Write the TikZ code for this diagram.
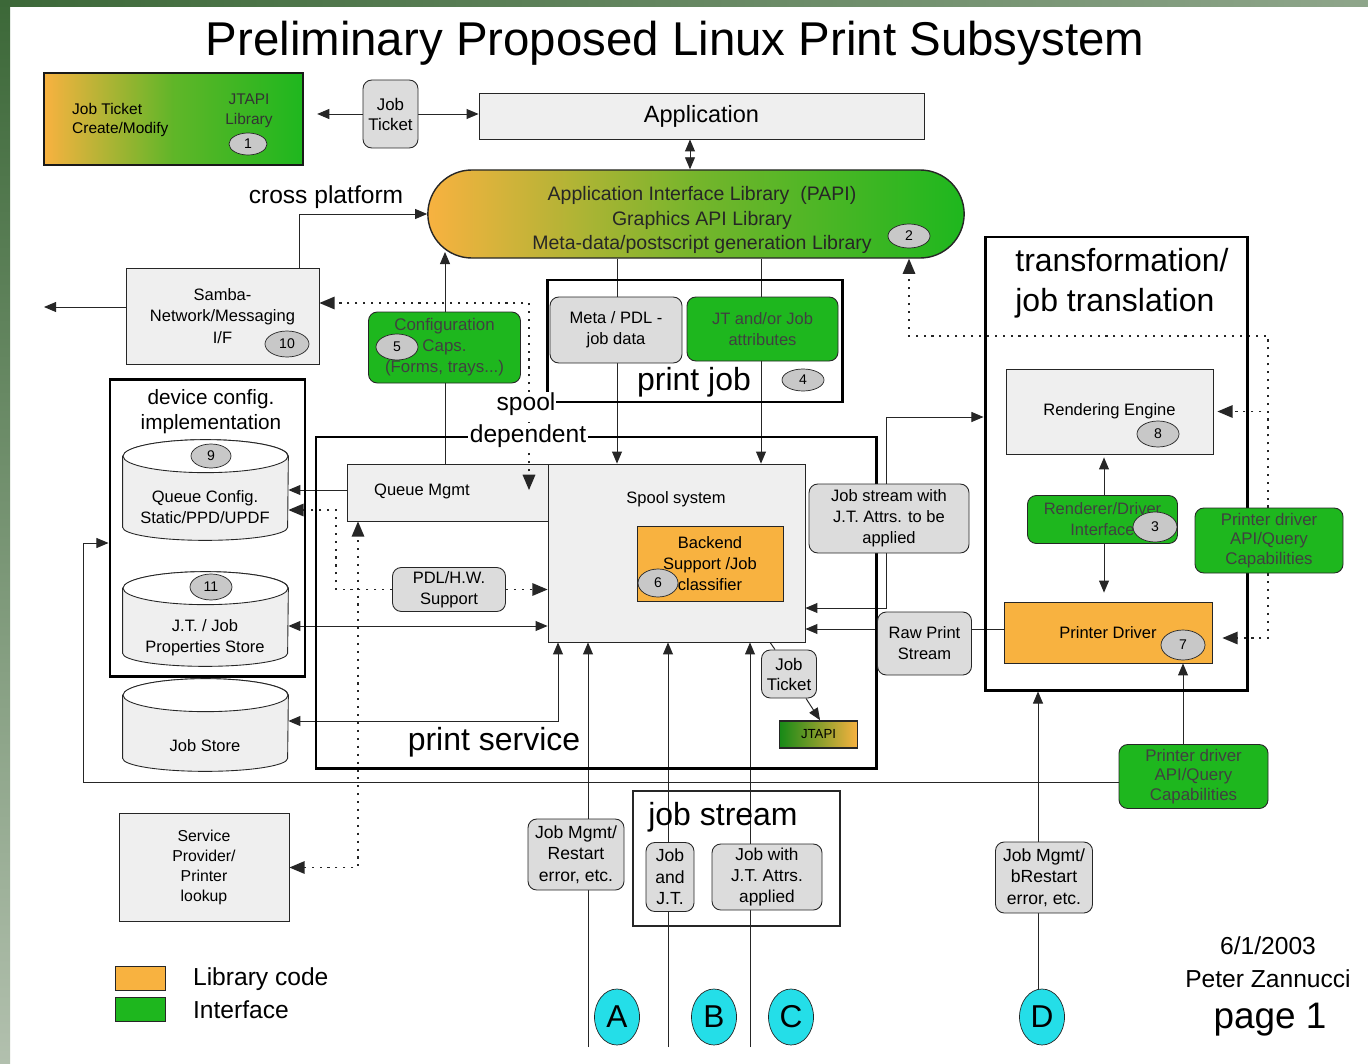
\documentclass[tikz,border=0pt]{standalone}
\usepackage{fontspec}
\setmainfont{Liberation Sans}
\usetikzlibrary{positioning,arrows,shapes,calc,backgrounds}

\definecolor{libora}{RGB}{248,178,64}
\definecolor{ifgreen}{RGB}{30,183,30}
\definecolor{boxgray}{RGB}{239,239,239}
\definecolor{notegray}{RGB}{220,220,220}
\definecolor{badgegray}{RGB}{200,200,200}
\definecolor{entcyan}{RGB}{36,222,232}
\definecolor{edgegreen}{RGB}{60,104,56}
\definecolor{edgepale}{RGB}{178,192,174}

\newcommand\fsz[2]{\fontsize{#1}{#2}\selectfont}
% database drum drawn round a named node
\newcommand\dbshape[1]{%
  \path[fill=boxgray, draw=black!85, line width=0.5pt]
    ([yshift=-0.33cm]#1.north west) -- ([yshift=0.26cm]#1.south west)
    arc[start angle=180, end angle=360, x radius=1.65cm, y radius=0.26cm]
    -- ([yshift=-0.33cm]#1.north east)
    arc[start angle=0, end angle=180, x radius=1.65cm, y radius=0.33cm] -- cycle;
  \path[fill=white, draw=black!85, line width=0.5pt]
    ([yshift=-0.33cm]#1.north) ellipse[x radius=1.65cm, y radius=0.33cm];
}

\tikzset{
  sz/.style 2 args={minimum width=#1*0.02cm, minimum height=#2*0.02cm},
  box/.style={draw=black!85, fill=boxgray, line width=0.5pt, align=center, inner sep=1pt},
  note/.style={box, fill=notegray, rounded corners=5pt},
  iface/.style={note, fill=ifgreen, text=black!75},
  libbox/.style={box, fill=libora},
  group/.style={draw=black, line width=1.7pt, inner sep=0pt},
  dbnode/.style={inner sep=0pt},
  badge/.style={ellipse, draw=black!85, fill=badgegray, inner sep=0pt, font=\fsz{8}{9}},
  entry/.style={ellipse, draw=black!85, fill=entcyan, sz={45}{56}, inner sep=0pt, font=\fsz{18}{20}},
  tag/.style={inner sep=1pt, font=\fsz{14}{16}},
  bigtag/.style={inner sep=1pt, font=\fsz{18.2}{22}},
  conn/.style={draw=black!85, line width=0.55pt, >=triangle 45},
  dotconn/.style={conn, line width=1pt, dash pattern=on 1.2pt off 3.3pt},
}

\begin{document}
\begin{tikzpicture}[x=0.02cm, y=-0.02cm, font=\fsz{9.4}{12}]
  \useasboundingbox (0,0) rectangle (1368,1064);
  \begin{pgfonlayer}{background}
    \fill[white] (0,0) rectangle (1368,1064);
    \shade[top color=edgegreen, bottom color=edgepale] (0,0) rectangle (10,1064);
    \shade[left color=edgegreen, right color=edgepale!70!edgegreen] (0,0) rectangle (1368,7);
  \end{pgfonlayer}

  \node[font=\fsz{27}{32}] (title) at (675,43) {Preliminary Proposed Linux Print Subsystem};

  % top row
  \node[box, sz={259}{92}, line width=1.4pt, draw=black!90, left color=libora, right color=ifgreen, middle color=ifgreen!70!libora] (jtapi) at (173.5,119) {};
  \node[anchor=west, align=left, font=\fsz{8.8}{11.3}] (jtapitxt) at (66,120) {Job Ticket\\Create/Modify};
  \node[align=center, font=\fsz{8.8}{11.3}, text=black!80] (jtlib) at (249,111) {JTAPI\\Library};
  \node[badge, sz={38}{22}] (b1) at (248,144) {1};
  \node[note, sz={55}{68}, font=\fsz{9.6}{11.4}] (jtk) at (390.5,114) {Job\\Ticket};
  \node[box, sz={445}{46}, font=\fsz{13.4}{15}] (app) at (701.5,116) {Application};

  \node[rounded rectangle, draw=black!85, line width=0.8pt, sz={548}{88}, left color=libora, right color=ifgreen, middle color=ifgreen!60!libora] (papi) at (696,214) {};
  \node[align=center, font=\fsz{11.1}{13.9}, text=black!85] (papitxt) at (702,220) {Application Interface Library\ \ (PAPI)\\Graphics API Library\\Meta-data/postscript generation Library};
  \node[badge, sz={42}{24}] (b2) at (909,236) {2};
  \node[tag] (xplat) at (326,197) {cross platform};

  % network and configuration
  \node[box, sz={193}{96}, font=\fsz{9.4}{12.2}] (samba) at (222.5,316) {Samba-\\Network/Messaging\\I/F};
  \node[badge, sz={44}{26}] (b10) at (287,344) {10};
  \node[iface, sz={152}{71}, font=\fsz{9.6}{11.9}] (cfg) at (444.5,347.5) {Configuration\\Caps.\\(Forms, trays...)};
  \node[badge, sz={42}{26}] (b5) at (397,347) {5};

  % print job
  \node[group, sz={295}{122}] (pjob) at (695,341) {};
  \node[note, sz={132}{66}] (meta) at (616,330) {Meta / PDL -\\job data};
  \node[iface, sz={151}{64}] (jtattr) at (762.5,329) {JT and/or Job\\attributes};
  \node[bigtag] (pjobtxt) at (694,382) {print job};
  \node[badge, sz={42}{22}] (b4) at (803,380) {4};

  % device config stores
  \node[group, sz={195}{297}] (devcfg) at (207.5,528) {};
  \node[align=center, font=\fsz{11.8}{14.2}] (devcfgtxt) at (211,412) {device config.\\implementation};
  \node[dbnode, sz={165}{100}] (qcfg) at (205.5,490) {};
  \dbshape{qcfg}
  \node[badge, sz={40}{24}] (b9) at (211,456) {9};
  \node[align=center] (qcfgtxt) at (205,507) {Queue Config.\\Static/PPD/UPDF};
  \node[dbnode, sz={165}{94}] (jtstore) at (205.5,619) {};
  \dbshape{jtstore}
  \node[badge, sz={42}{26}] (b11) at (211,587) {11};
  \node[align=center] (jtstoretxt) at (205,638) {J.T. / Job\\Properties Store};
  \node[dbnode, sz={165}{92}] (jobstore) at (205.5,725) {};
  \dbshape{jobstore}
  \node (jobstoretxt) at (205,746) {Job Store};
  \node[box, sz={170}{108}, font=\fsz{9}{11.3}] (svc) at (204,867.5) {Service\\Provider/\\Printer\\lookup};

  % print service
  \node[group, sz={560}{331}] (psvc) at (596,602.5) {};
  \node[box, sz={201}{57}] (qmgmt) at (447.5,492.5) {};
  \node[anchor=west] (qmgmttxt) at (368,491) {Queue Mgmt};
  \node[box, sz={257}{178}] (spool) at (676.5,553) {};
  \node (spooltxt) at (676,499) {Spool system};
  \node[libbox, sz={146}{75}] (backend) at (710,563.5) {Backend\\Support /Job\\classifier};
  \node[badge, sz={40}{28}] (b6) at (658,583) {6};
  \node[note, sz={113}{44}] (pdl) at (449,589.5) {PDL/H.W.\\Support};
  \node[note, sz={55}{48}, font=\fsz{9.6}{11.4}] (jtk2) at (789,674) {Job\\Ticket};
  \node[box, sz={78}{27}, line width=1pt, left color=ifgreen!75!black, right color=libora, font=\fsz{7.5}{9}] (jtapi2) at (818.5,734.5) {JTAPI};
  \node[bigtag] (psvctxt) at (494,742) {print service};
  \node[note, sz={160}{69}] (jswith) at (889,518.5) {Job stream with\\J.T. Attrs. to be\\applied};
  \node[note, sz={94}{63}] (raw) at (924.5,643.5) {Raw Print\\Stream};

  % transformation
  \node[group, sz={262}{453}] (trans) at (1116,463.5) {};
  \node[bigtag, align=left, font=\fsz{18.2}{22.5}] (transtxt) at (1122,283) {transformation/\\job translation};
  \node[box, sz={207}{85}] (render) at (1109.5,411.5) {Rendering Engine};
  \node[badge, sz={42}{26}] (b8) at (1158,434) {8};
  \node[iface, sz={150}{48}] (rdi) at (1102.5,519.5) {Renderer/Driver\\Interface};
  \node[badge, sz={44}{30}] (b3) at (1155,527) {3};
  \node[libbox, sz={208}{61}] (pdrv) at (1108,632.5) {Printer Driver};
  \node[badge, sz={44}{30}] (b7) at (1183,645) {7};
  \node[iface, sz={148}{65}, font=\fsz{9.6}{11.3}] (pdapi1) at (1269,540.5) {Printer driver\\API/Query\\Capabilities};
  \node[iface, sz={149}{64}, font=\fsz{9.6}{11.3}] (pdapi2) at (1193.5,776.5) {Printer driver\\API/Query\\Capabilities};

  % job stream
  \node[note, sz={96}{71}, font=\fsz{10}{12.2}] (jmA) at (576,854.5) {Job Mgmt/\\Restart\\error, etc.};
  \node[draw=black!85, line width=0.6pt, sz={207}{135}] (jstream) at (736.5,858.5) {};
  \node[bigtag] (jstreamtxt) at (723,817) {job stream};
  \node[note, sz={48}{69}, font=\fsz{10}{12.2}] (jobjt) at (670,877) {Job\\and\\J.T.};
  \node[note, sz={110}{66}, font=\fsz{9.8}{12.2}] (jobwith) at (767,877) {Job with\\J.T. Attrs.\\applied};
  \node[note, sz={97}{71}, font=\fsz{10}{12.2}] (jmD) at (1044,877.5) {Job Mgmt/\\bRestart\\error, etc.};
  \node[entry] (entA) at (617,1017) {A};
  \node[entry] (entB) at (714,1017) {B};
  \node[entry] (entC) at (791,1017) {C};
  \node[entry] (entD) at (1042,1017) {D};
  \coordinate (srcA) at (588,1047);
  \coordinate (srcB) at (668,1047);
  \coordinate (srcC) at (750,1047);

  % legend and date
  \node[draw=black!85, fill=libora, sz={50}{24}, inner sep=0pt] (legora) at (140.5,978) {};
  \node[tag, anchor=west] (legoratxt) at (191,979) {Library code};
  \node[draw=black!85, fill=ifgreen, sz={50}{24}, inner sep=0pt] (leggrn) at (140.5,1009.5) {};
  \node[tag, anchor=west] (leggrntxt) at (191,1010) {Interface};
  \node[tag] (date) at (1268,946) {6/1/2003};
  \node[tag] (author) at (1268,979) {Peter Zannucci};
  \node[font=\fsz{21}{24}] (page) at (1270,1020) {page 1};

  \coordinate (netout) at (44,307);
  \coordinate (papiin) at (445,252);
  \coordinate (qmgin) at (529,490);

  \begin{pgfonlayer}{background}
    \draw[conn,->,shorten >=0.26cm] (jtk.west) -- (jtapi.east |- jtk.west);
    \draw[conn,->] (jtk.east) -- (app.west |- jtk.east);
    \draw[conn,<->] (app.south -| 690,0) -- (papi.north -| 690,0);
    \draw[conn,->] (samba.north -| 299,0) |- (papi.west);
    \draw[conn,->] (samba.west |- netout) -- (netout);
    \draw[conn,->] (qmgmt.north -| papiin) -- (papiin);
    \draw[conn,->] (papi.south -| 617,0) -- (spool.north -| 617,0);
    \draw[conn,->] (papi.south -| 761,0) -- (spool.north -| 761,0);
    \draw[conn,->] (qmgmt.west |- 0,490) -- (qcfg.east |- 0,490);
    \draw[dotconn,->] (pdl.west) -| (336,510) -- (qcfg.east |- 0,510);
    \draw[dotconn,->] (pdl.east) -- (pdl.east -| spool.west);
    \draw[dotconn,<->] (qmgmt.south -| 358,0) |- (svc.east);
    \draw[conn,<->] (jtstore.east |- 0,626) -- (spool.west |- 0,626);
    \draw[conn,<->] (jobstore.east |- 0,721) -| (spool.south -| 558,0);
    \draw[conn,->] (srcA) -- (spool.south -| srcA);
    \draw[conn,->] (srcB) -- (spool.south -| srcB);
    \draw[conn,->] (srcC) -- (spool.south -| srcC);
    \draw[conn,<->] (spool.east |- 0,608) -| (886,417) -- (trans.west |- 0,417);
    \draw[conn] (pdrv.west |- 0,629) -- (raw.east |- 0,629);
    \draw[conn,->] (raw.west |- 0,629) -- (spool.east |- 0,629);
    \draw[conn,->] (jtk2.north -| 775,0) -- ($(backend.south -| 748,0)+(0,9)$);
    \draw[conn,->] (jtk2.south -| 806,0) -- (jtapi2.north -| 820,0);
    \draw[conn,<->,shorten <=0.06cm,shorten >=0.18cm] (render.south -| 1104,0) -- (pdrv.north -| 1104,0);
    \draw[conn,->] (pdapi2.north -| 1183,0) -- (pdrv.south -| 1183,0);
    \draw[conn,->] (entD.north -| 1038,0) -- (trans.south -| 1038,0);
    \draw[conn,->] (pdapi2.west |- 0,782) -| (83,543) -- (devcfg.west |- 0,543);
    \draw[dotconn,->] (pdapi1.north -| 1268,0) |- (909,336) -- (papi.south -| 909,0);
    \draw[dotconn,->,shorten >=0.08cm] (pdapi1.north -| 1268,0) |- (render.east);
    \draw[dotconn,->,shorten >=0.2cm] (pdapi1.south -| 1268,0) |- (pdrv.east |- 0,638);
  \end{pgfonlayer}

  \draw[dotconn,<->] (qmgin) |- (samba.east |- 0,303);

  % spool dependent label on the service frame
  \node[tag, fill=white, inner sep=0.5pt] (spooltag) at (526,404) {spool};
  \node[tag, fill=white, inner sep=1pt] (deptag) at (528,436) {dependent};
\end{tikzpicture}
\end{document}
